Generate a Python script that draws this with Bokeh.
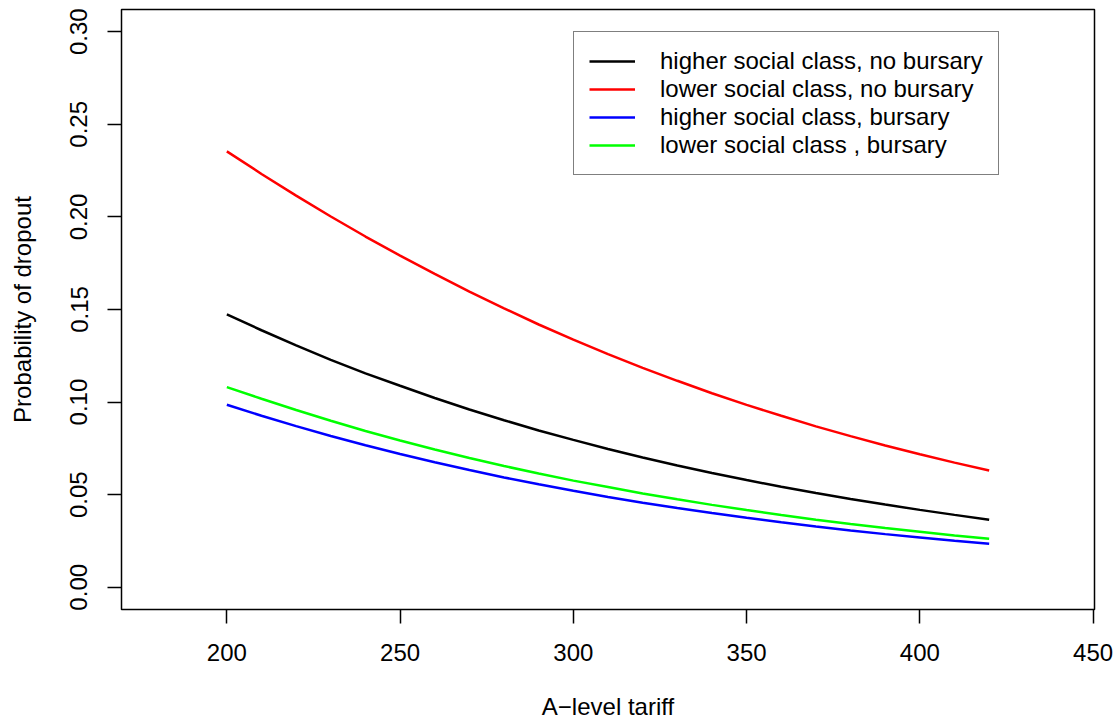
from bokeh.plotting import figure
from bokeh.models import Range1d, FixedTicker, Legend, LegendItem, NumeralTickFormatter
from bokeh.embed import file_html
from bokeh.resources import INLINE

# ---- data ----
tariff = [200, 210, 220, 230, 240, 250, 260, 270, 280, 290, 300, 310,
          320, 330, 340, 350, 360, 370, 380, 390, 400, 410, 420]

higher_no_bursary = [0.1474, 0.1388, 0.1306, 0.1228, 0.1155, 0.1088, 0.1022, 0.0960,
                     0.0902, 0.0847, 0.0796, 0.0747, 0.0701, 0.0658, 0.0617, 0.0579,
                     0.0543, 0.0509, 0.0477, 0.0447, 0.0418, 0.0391, 0.0365]
lower_no_bursary = [0.2354, 0.2232, 0.2115, 0.2002, 0.1894, 0.1791, 0.1692, 0.1596,
                    0.1506, 0.1419, 0.1337, 0.1259, 0.1185, 0.1115, 0.1048, 0.0985,
                    0.0926, 0.0869, 0.0816, 0.0766, 0.0718, 0.0673, 0.0631]
higher_bursary = [0.0986, 0.0926, 0.0870, 0.0817, 0.0767, 0.0720, 0.0675, 0.0633,
                  0.0593, 0.0556, 0.0521, 0.0488, 0.0457, 0.0428, 0.0401, 0.0375,
                  0.0351, 0.0328, 0.0307, 0.0287, 0.0269, 0.0251, 0.0235]
lower_bursary = [0.1081, 0.1018, 0.0957, 0.0899, 0.0844, 0.0793, 0.0744, 0.0698,
                 0.0655, 0.0614, 0.0576, 0.0541, 0.0506, 0.0475, 0.0445, 0.0417,
                 0.0390, 0.0365, 0.0342, 0.0320, 0.0300, 0.0280, 0.0262]

series_names = ["higher social class, no bursary",
                "lower social class, no bursary",
                "higher social class, bursary",
                "lower social class , bursary"]
series_colors = ["#000000", "#FF0000", "#0000FF", "#00FF00"]

x_ticks = [200, 250, 300, 350, 400, 450]
y_ticks = [0.0, 0.05, 0.10, 0.15, 0.20, 0.25, 0.30]

x_title = "A\u2212level tariff"
y_title = "Probability of dropout"

FONT = "Liberation Sans"
FS = "24px"

p = figure(width=1120, height=723,
           x_range=Range1d(169.6, 450.4), y_range=Range1d(-0.012, 0.312),
           output_backend="svg", toolbar_location=None,
           min_border_left=121, min_border_right=26,
           min_border_top=9, min_border_bottom=114)

p.background_fill_color = "white"
p.border_fill_color = "white"
p.xgrid.visible = False
p.ygrid.visible = False
p.outline_line_color = "black"
p.outline_line_width = 1.5

for ax in (p.xaxis[0], p.yaxis[0]):
    ax.axis_line_color = None
    ax.major_tick_in = 0
    ax.major_tick_out = 14
    ax.major_tick_line_color = "black"
    ax.major_tick_line_width = 1.5
    ax.minor_tick_line_color = None
    ax.major_label_text_font = FONT
    ax.major_label_text_font_size = FS
    ax.major_label_text_color = "black"
    ax.axis_label_text_font = FONT
    ax.axis_label_text_font_size = FS
    ax.axis_label_text_font_style = "normal"
    ax.axis_label_text_color = "black"

p.xaxis.ticker = FixedTicker(ticks=x_ticks)
p.yaxis.ticker = FixedTicker(ticks=y_ticks)
p.yaxis.formatter = NumeralTickFormatter(format="0.00")
p.yaxis.major_label_orientation = "vertical"

p.xaxis.axis_label = x_title
p.yaxis.axis_label = y_title
p.xaxis.major_label_standoff = 20
p.yaxis.major_label_standoff = 20
p.xaxis.axis_label_standoff = 29
p.yaxis.axis_label_standoff = 32

all_series = [higher_no_bursary, lower_no_bursary, higher_bursary, lower_bursary]
items = []
for name, col, vals in zip(series_names, series_colors, all_series):
    r = p.line(tariff, vals, line_color=col, line_width=2.5)
    items.append(LegendItem(label=name, renderers=[r]))

legend = Legend(items=items, location=(452, 434),
                border_line_color="black", border_line_width=1.5,
                background_fill_color="white", background_fill_alpha=1.0,
                padding=15, spacing=0, margin=0,
                glyph_width=46, glyph_height=28, label_height=28,
                label_standoff=25,
                label_text_font=FONT, label_text_font_size=FS,
                label_text_color="black")
p.add_layout(legend)

open("out.html", "w").write(file_html(p, INLINE))
